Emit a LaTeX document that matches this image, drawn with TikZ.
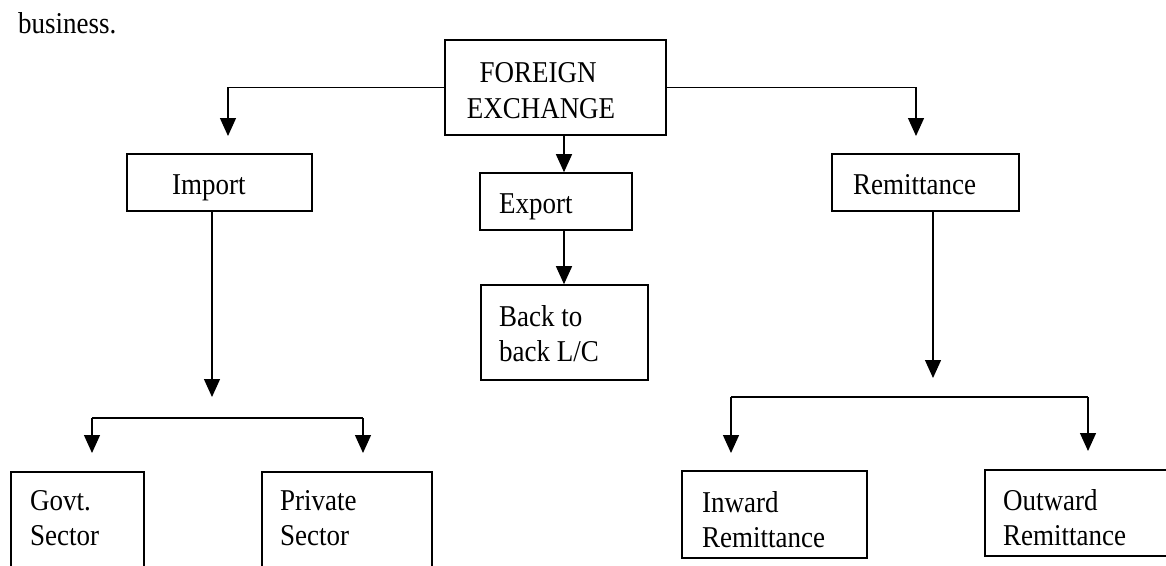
\documentclass[tikz,border=0pt]{standalone}
\usepackage{fontspec}
\setmainfont{Liberation Serif}
\usetikzlibrary{arrows.meta}
\newcommand{\vst}[1]{\scalebox{1}[1.12]{#1}}
\begin{document}
\begin{tikzpicture}[x=1pt,y=-1pt,
  box/.style={draw, line width=1.6pt, rectangle, inner sep=0pt},
  lbl/.style={inner sep=0pt, font=\fontsize{27}{35}\selectfont},
  lw/.style={lbl, anchor=base west},
  lc/.style={lbl, anchor=base},
  conn/.style={line width=1.3pt},
  arr/.style={conn, -{Triangle[width=16pt,length=18pt]}}]
\useasboundingbox (0,0) rectangle (1166,565);
\clip (0,0) rectangle (1166,565);
\fill[white] (0,0) rectangle (1166,565);

% boxes
\node[box, minimum width=221pt, minimum height=95pt] (fe) at (555.5,87.5) {};
\node[box, minimum width=185pt, minimum height=57pt] (imp) at (219.5,182.5) {};
\node[box, minimum width=152pt, minimum height=57pt] (exp) at (556,201.5) {};
\node[box, minimum width=187pt, minimum height=57pt] (rem) at (925.5,182.5) {};
\node[box, minimum width=167pt, minimum height=95pt] (bb) at (564.5,332.5) {};
\node[box, minimum width=133pt, minimum height=128pt] (gov) at (77.5,536) {};
\node[box, minimum width=170pt, minimum height=128pt] (pri) at (347,536) {};
\node[box, minimum width=185pt, minimum height=87pt] (inw) at (774.5,514.5) {};
\node[box, minimum width=195pt, minimum height=86pt] (out) at (1082.5,513) {};

% texts
\node[lw] (t0) at (18,33) {\vst{business.}};
\node[lc] (t1) at (538,82) {\vst{FOREIGN}};
\node[lc] (t2) at (541,118) {\vst{EXCHANGE}};
\node[lw] (t3) at (172,194) {\vst{Import}};
\node[lw] (t4) at (499,213) {\vst{Export}};
\node[lw] (t5) at (853,194) {\vst{Remittance}};
\node[lw] (t6) at (499,326) {\vst{Back to}};
\node[lw] (t7) at (499,361) {\vst{back L/C}};
\node[lw] (t8) at (30,510) {\vst{Govt.}};
\node[lw] (t9) at (30,545) {\vst{Sector}};
\node[lw] (t10) at (280,510) {\vst{Private}};
\node[lw] (t11) at (280,545) {\vst{Sector}};
\node[lw] (t12) at (702,512) {\vst{Inward}};
\node[lw] (t13) at (702,547) {\vst{Remittance}};
\node[lw] (t14) at (1003,510) {\vst{Outward}};
\node[lw] (t15) at (1003,545) {\vst{Remittance}};

% connector coordinates
\coordinate (aImp) at (228,136);
\coordinate (aRem) at (916,136);
\coordinate (xExp) at (564,0);
\coordinate (xBB) at (564,0);
\coordinate (jImp) at (212,397);
\coordinate (bL) at (92,418);
\coordinate (bR) at (363,418);
\coordinate (aGov) at (92,453);
\coordinate (aPri) at (363,453);
\coordinate (jRem) at (933,378);
\coordinate (cL) at (731,397);
\coordinate (cR) at (1088,397);
\coordinate (aInw) at (731,453);
\coordinate (aOut) at (1088,451);

% connectors
\draw[arr] (fe.west) -| (aImp);
\draw[arr] (fe.east) -| (aRem);
\draw[arr] (fe.south -| xExp) -- (exp.north -| xExp);
\draw[arr] (exp.south -| xBB) -- (bb.north -| xBB);
\draw[arr] (imp.south -| jImp) -- (jImp);
\draw[conn] (bL) -- (bR);
\draw[arr] (bL) -- (aGov);
\draw[arr] (bR) -- (aPri);
\draw[arr] (rem.south -| jRem) -- (jRem);
\draw[conn] (cL) -- (cR);
\draw[arr] (cL) -- (aInw);
\draw[arr] (cR) -- (aOut);
\end{tikzpicture}
\end{document}
